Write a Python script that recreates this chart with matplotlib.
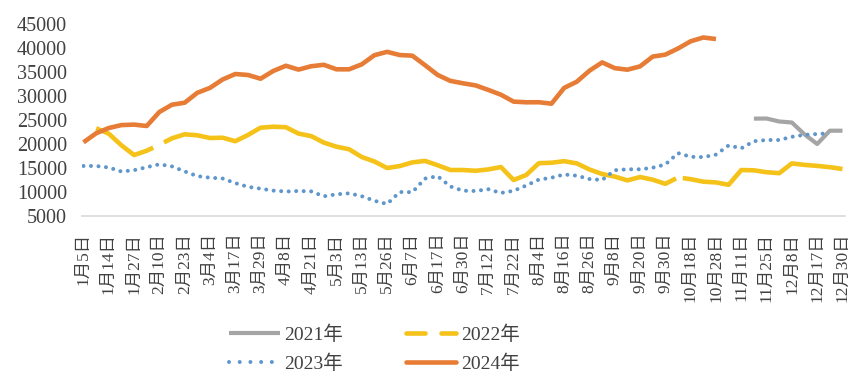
import numpy as np
import matplotlib
matplotlib.use("Agg")
import matplotlib.pyplot as plt
from matplotlib.lines import Line2D

plt.rcParams['lines.scale_dashes'] = False
FONT = ['Liberation Serif', 'Noto Sans CJK SC']
plt.rcParams['font.family'] = FONT

# ---------------- data ----------------
tick_labels = ['1月5日', '1月14日', '1月27日', '2月10日', '2月23日', '3月4日', '3月17日',
               '3月29日', '4月8日', '4月21日', '5月3日', '5月13日', '5月26日', '6月7日',
               '6月17日', '6月30日', '7月12日', '7月22日', '8月4日', '8月16日', '8月26日',
               '9月8日', '9月20日', '9月30日', '10月18日', '10月28日', '11月11日', '11月25日',
               '12月8日', '12月17日', '12月30日']
n_categories = 61          # every second category carries a label
label_every = 2

N = None
s2021 = [N] * 53 + [25290, 25310, 24690, 24480, 22000, 20000, 22770, 22770]

s2022 = [N,
         23290, 22150, 19730, 17700, 18600, 19850, 21190, 22020, 21810, 21250,
         21310, 20580, 21870, 23400, 23600, 23500, 22170, 21650, 20290, 19440,
         18900, 17290, 16350, 15000, 15400, 16170, 16480, 15580, 14580, 14580,
         14420, 14700, 15200, 12500, 13540, 16000, 16100, 16420, 15960, 14690,
         13750, 13210, 12420, 13120, 12560, 11700, 13040, 12670, 12150, 12000,
         11500, 14580, 14520, 14120, 13920, 15960, 15650, 15440, 15170, 14790]

s2023 = [15420, 15420, 15100, 14270, 14540, 15170, 15770, 15330, 14290, 13310,
         12980, 12810, 11850, 11080, 10690, 10290, 10100, 10210, 10130, 9100,
         9520, 9730, 9120, 8170, 7500, 10000, 9960, 12800, 13300, 11150,
         10270, 10210, 10580, 9800, 10250, 11350, 12580, 12980, 13650, 13400,
         12700, 12500, 14540, 14730, 14730, 15060, 15730, 18100, 17330, 17270,
         17790, 19700, 19100, 20580, 20830, 20830, 21500, 21900, 22080, 22250, N]

s2024 = [20350, 22230, 23330, 23940, 24040, 23750, 26670, 28190, 28600, 30670,
         31690, 33440, 34580, 34380, 33600, 35210, 36300, 35500, 36200, 36500,
         35560, 35560, 36600, 38500, 39200, 38540, 38400, 36420, 34390, 33150,
         32650, 32210, 31270, 30270, 28830, 28690, 28700, 28400, 31690, 32980,
         35270, 37000, 35800, 35480, 36170, 38210, 38620, 39900, 41400, 42190,
         41870] + [N] * 10

series_names = ['2021年', '2022年', '2023年', '2024年']
y_ticks = [5000, 10000, 15000, 20000, 25000, 30000, 35000, 40000, 45000]

# ---------------- style ----------------
C_GRAY = '#A5A5A5'
C_YELLOW = '#F5C21A'
C_BLUE = '#5F97CC'
C_ORANGE = '#E67C35'
TXT = '#404040'
YELLOW_GAPS = [(5.94, 12), (47.1, 7)]   # (category position, gap in px) of the dash pattern

W, H, DPI = 861, 390, 100
fig = plt.figure(figsize=(W / DPI, H / DPI), dpi=DPI)
ax = fig.add_axes([81.7 / W, 1 - 216 / H, (845 - 81.7) / W, (216 - 24) / H])

x = np.arange(n_categories)


def arr(v):
    return np.array([np.nan if a is None else a for a in v], dtype=float)


y21, y22, y23, y24 = arr(s2021), arr(s2022), arr(s2023), arr(s2024)

ax.set_xlim(-0.14, 60.2)
ax.set_ylim(5000, 45000)

ax.plot(x, y21, color=C_GRAY, lw=3.0, solid_capstyle='butt', solid_joinstyle='round', zorder=2)
l22, = ax.plot(x, y22, color=C_YELLOW, lw=3.3, solid_capstyle='butt', dash_capstyle='butt',
               solid_joinstyle='round', dash_joinstyle='round', zorder=3)
ax.plot(x, y23, color=C_BLUE, lw=2.9, dashes=[0.01, 5.4], dash_capstyle='round', zorder=4)
ax.plot(x, y24, color=C_ORANGE, lw=3.3, solid_capstyle='butt', solid_joinstyle='round', zorder=5)

# long-dash pattern of the 2022 line (gaps placed along the drawn path)
m = ~np.isnan(y22)
xv, yv = x[m].astype(float), y22[m]
pts = ax.transData.transform(np.column_stack([xv, yv]))
cum = np.concatenate([[0], np.cumsum(np.hypot(np.diff(pts[:, 0]), np.diff(pts[:, 1])))])
px2pt = 72.0 / DPI
seq = []
pos = 0.0
for gx, gw in YELLOW_GAPS:
    L = float(np.interp(gx, xv, cum))
    seq += [(L - gw / 2 - pos) * px2pt, gw * px2pt]
    pos = L + gw / 2
seq += [(cum[-1] - pos + 50) * px2pt, 1.0]
l22.set_dashes(seq)

# axes styling
for s in ['left', 'right', 'top']:
    ax.spines[s].set_visible(False)
ax.spines['bottom'].set_color('#D9D9D9')
ax.spines['bottom'].set_linewidth(1.2)

ax.set_yticks(y_ticks)
ax.set_yticklabels([str(v) for v in y_ticks])
ax.tick_params(axis='y', length=0, pad=10.5, labelsize=14.5, labelcolor=TXT)

ax.set_xticks(x[::label_every])
ax.set_xticklabels(tick_labels, rotation=90, fontsize=12.5, color=TXT)
ax.tick_params(axis='x', length=0, pad=12)

# legend
h21 = Line2D([], [], color=C_GRAY, lw=3.0, solid_capstyle='butt')
h22 = Line2D([], [], color=C_YELLOW, lw=3.3, dashes=[13.7, 11.5], dash_capstyle='round')
h23 = Line2D([], [], color=C_BLUE, lw=2.9, dashes=[0.01, 7.7], dash_capstyle='round')
h24 = Line2D([], [], color=C_ORANGE, lw=3.3, solid_capstyle='round')
leg = fig.legend([h21, h23, h22, h24],
                 [series_names[0], series_names[2], series_names[1], series_names[3]],
                 ncol=2, loc='center left', bbox_to_anchor=(229 / W, 1 - 349.5 / H),
                 frameon=False, borderpad=0, borderaxespad=0,
                 handlelength=2.6, handletextpad=0.25, columnspacing=3.2, labelspacing=0.55,
                 prop={'family': FONT, 'size': 14})
for t in leg.get_texts():
    t.set_color(TXT)

fig.savefig('out.png', dpi=DPI, facecolor='white')
